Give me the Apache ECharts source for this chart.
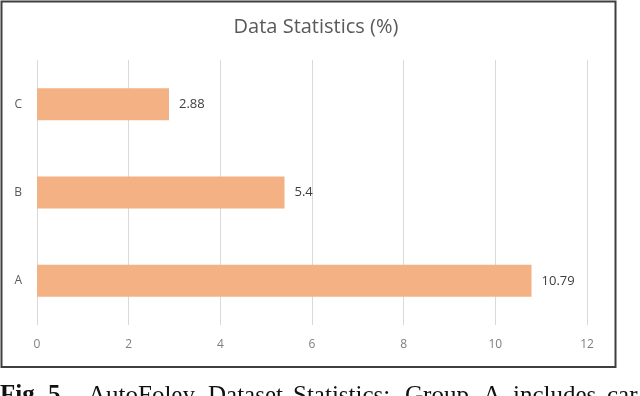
<!DOCTYPE html>
<html>
<head>
<meta charset="utf-8">
<script src="https://cdn.jsdelivr.net/npm/echarts@6/dist/echarts.min.js"></script>
<style>
  html, body { margin: 0; padding: 0; background: #fff; }
  #chart { width: 640px; height: 396px; }
</style>
</head>
<body>
<div id="chart"></div>
<script>
  // data
  var groups = ['A', 'B', 'C']
  var percents = [10.79, 5.4, 2.88]
  var ticks = [0, 2, 4, 6, 8, 10, 12]

  // caption words, laid out like the justified line in the paper
  var captionWords = [
    { t: 'Fig.', x: 0, bold: true },
    { t: '5.', x: 48, bold: true },
    { t: 'AutoFoley', x: 88 },
    { t: 'Dataset', x: 208 },
    { t: 'Statistics:', x: 293 },
    { t: 'Group', x: 405 },
    { t: 'A', x: 483 },
    { t: 'includes', x: 513 },
    { t: 'car', x: 607 }
  ]

  var chart = echarts.init(document.getElementById('chart'))

  var graphics = [
    {
      type: 'rect',
      shape: { x: 1.5, y: 1.5, width: 614, height: 365.5 },
      style: { fill: 'none', stroke: '#3f3f3f', lineWidth: 2 },
      silent: true
    }
  ]
  captionWords.forEach(function (w) {
    graphics.push({
      type: 'text',
      x: w.x,
      y: 396,
      style: {
        text: w.t,
        font: (w.bold ? 'bold ' : '') + '25px "Liberation Serif", "Times New Roman", serif',
        fill: '#111',
        textVerticalAlign: 'middle'
      },
      silent: true
    })
  })

  var option = {
    backgroundColor: '#fff',
    animation: false,
    title: {
      text: 'Data Statistics (%)',
      left: 311,
      top: 12,
      textAlign: 'center',
      textStyle: {
        fontFamily: 'Open Sans',
        fontSize: 20,
        fontWeight: 'normal',
        color: '#595959'
      }
    },
    grid: {
      left: 37,
      right: 53,
      top: 60,
      bottom: 71
    },
    xAxis: {
      type: 'value',
      min: ticks[0],
      max: ticks[ticks.length - 1],
      interval: 2,
      axisLine: { show: false },
      axisTick: { show: false },
      splitLine: { lineStyle: { color: '#d9d9d9', width: 1 } },
      axisLabel: {
        margin: 14,
        color: '#7f7f7f',
        fontFamily: 'Open Sans',
        fontSize: 12
      }
    },
    yAxis: {
      type: 'category',
      data: groups,
      axisLine: { show: false },
      axisTick: { show: false },
      axisLabel: {
        margin: 15,
        color: '#595959',
        fontFamily: 'Open Sans',
        fontSize: 12
      }
    },
    series: [
      {
        type: 'bar',
        data: percents,
        barWidth: 32,
        itemStyle: { color: '#f4b183' },
        label: {
          show: true,
          position: 'right',
          distance: 10,
          color: '#404040',
          fontFamily: 'Open Sans',
          fontSize: 13
        }
      }
    ],
    graphic: graphics
  }

  chart.setOption(option)
</script>
</body>
</html>
